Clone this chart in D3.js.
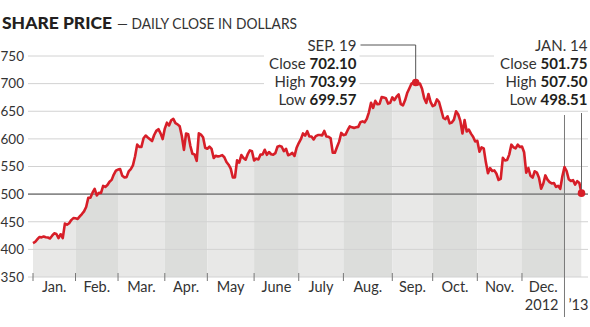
<!DOCTYPE html>
<html><head><meta charset="utf-8">
<script src="https://cdn.jsdelivr.net/npm/d3@7"></script>
<style>body{margin:0;background:#fff}svg{display:block;font-family:Lato,"Noto Sans",sans-serif}</style>
</head><body><svg id="c" width="590" height="327"></svg>
<script>
// ---- data ----
const titleMain = "SHARE PRICE";
const titleSub = "— DAILY CLOSE IN DOLLARS";
const monthLabels = ["Jan.","Feb.","Mar.","Apr.","May","June","July","Aug.","Sep.","Oct.","Nov.","Dec.",""];
const yearLabels = ["2012","’13"];
const yTicks = [350,400,450,500,550,600,650,700,750];
// daily closes (trading days), one array per month
const jan12 = [411.2,413.4,418.0,422.4,421.7,423.2,421.9,421.4,419.8,424.7,429.1,427.8,420.3,427.4,420.4,446.7,444.6,447.3,453.0,456.5];
const feb12 = [456.2,455.1,459.7,464.0,468.8,476.7,493.2,493.4,502.6,509.5,497.7,502.2,502.1,514.9,513.0,516.4,522.4,525.8,535.4,542.4];
const mar12 = [544.5,545.2,533.2,530.3,530.7,541.0,545.2,552.0,568.1,589.6,585.6,585.6,601.1,606.0,602.5,599.3,596.1,607.0,614.5,617.6,609.9,599.6];
const apr12 = [618.6,629.3,624.3,633.7,636.2,628.4,626.2,622.8,605.2,580.1,609.7,608.3,587.4,573.0,571.7,560.3,610.0,607.7,603.0,584.0];
const may12 = [582.1,586.0,581.8,565.3,569.5,568.2,569.2,570.5,566.7,558.2,553.2,546.1,530.1,530.4,561.3,557.0,570.6,565.3,562.3,572.3,579.2,577.7];
const jun12 = [561.0,564.3,562.8,571.5,571.7,580.3,571.2,576.2,572.2,571.5,574.1,585.8,587.4,585.7,577.7,582.1,570.5,572.0,574.5,569.1,584.0];
const jul12 = [592.5,599.4,609.9,605.9,613.9,604.4,604.4,598.9,605.0,606.9,606.9,606.3,614.3,604.3,603.8,600.9,575.0,574.9,585.2,595.0,610.8];
const aug12 = [606.8,607.8,615.7,622.6,620.9,619.9,621.0,621.7,630.0,631.7,630.0,636.3,648.1,665.2,656.1,668.9,662.6,663.2,675.7,674.8,673.5,663.9,665.2];
const sep12 = [675.0,670.2,676.3,680.4,662.7,660.6,669.8,683.0,691.3,699.8,701.9,702.1,698.7,700.1,690.8,673.5,665.0,681.3,667.1];
const oct12 = [659.4,661.3,671.5,666.8,652.6,638.2,635.9,640.9,628.1,629.7,634.8,649.8,644.6,632.6,609.8,634.0,613.4,616.8,609.5,604.0,595.3];
const nov12 = [596.5,576.8,584.6,582.9,558.0,537.8,547.1,542.0,542.9,536.9,525.6,527.7,565.7,560.9,561.7,571.5,589.5,584.8,582.9,589.4,585.3];
const dec12 = [586.2,575.9,538.8,547.2,533.3,529.8,541.4,539.0,529.7,509.8,518.8,533.9,526.3,521.7,519.3,520.2,513.0,515.1,509.6,532.2];
const jan13 = [549.0,541.6,527.0,523.9,525.3,517.1,523.5,520.3,501.75];
const closesByMonth = [jan12,feb12,mar12,apr12,may12,jun12,jul12,aug12,sep12,oct12,nov12,dec12,jan13];
// annotations
const annDate  = ["SEP. 19","JAN. 14"];
const annClose = [702.10, 501.75];
const annHigh  = [703.99, 507.50];
const annLow   = [699.57, 498.51];

// ---- build ----
const data = [];
const monthStart = [];
closesByMonth.forEach((arr,m)=>{ monthStart.push(data.length); arr.forEach(v=>data.push({i:data.length,v,m})); });
const n = data.length;

const svg = d3.select("#c");
const x = d3.scaleLinear().domain([0,n-1]).range([33,581.5]);
const y = d3.scaleLinear().domain([350,750]).range([277,56]);
const ink = "#231f20";

// title
svg.append("text").attr("x",2).attr("y",29).attr("fill",ink).attr("font-weight",900).attr("font-size",17.5)
  .attr("textLength",110).attr("lengthAdjust","spacingAndGlyphs").text(titleMain);
svg.append("text").attr("x",117).attr("y",29).attr("fill","#333").attr("font-size",15)
  .attr("textLength",180).attr("lengthAdjust","spacingAndGlyphs").text(titleSub);

// area clip
const area = d3.area().x(d=>x(d.i)).y0(y(350)).y1(d=>y(d.v));
svg.append("clipPath").attr("id","ac").append("path").attr("d",area(data));
const bandEdges = monthStart.map(s=>x(s)).concat([x(n-1)]);
svg.append("g").attr("clip-path","url(#ac)").selectAll("rect").data(monthStart).join("rect")
  .attr("x",(d,k)=>bandEdges[k]).attr("width",(d,k)=>bandEdges[k+1]-bandEdges[k])
  .attr("y",y(750)).attr("height",y(350)-y(750))
  .attr("fill",(d,k)=>k%2? "#dcdddb":"#e8e8e7");

// gridlines
svg.append("g").selectAll("line").data(yTicks).join("line")
  .attr("x1",28).attr("x2",588).attr("y1",d=>y(d)).attr("y2",d=>y(d))
  .attr("stroke",d=>d===500?"#8a8a8a":"#d2d2d2").attr("stroke-width",d=>d===500?1.6:1);
svg.append("g").selectAll("text").data(yTicks).join("text")
  .attr("x",24).attr("y",d=>y(d)).attr("dy","0.36em").attr("text-anchor","end")
  .attr("font-size",13.5).attr("fill","#333").text(d=>d);

// x ticks
svg.append("g").selectAll("line").data(monthStart.slice(0,12)).join("line")
  .attr("x1",d=>x(d)).attr("x2",d=>x(d)).attr("y1",273).attr("y2",281)
  .attr("stroke","#777").attr("stroke-width",1);
svg.append("g").selectAll("text").data(monthLabels.slice(0,12)).join("text")
  .attr("x",(d,k)=>(x(monthStart[k])+x(monthStart[k+1]))/2).attr("y",292)
  .attr("text-anchor","middle").attr("font-size",14.5).attr("fill","#333").text(d=>d);
// year divider
const xy = x(monthStart[12]);
svg.append("line").attr("x1",xy).attr("x2",xy).attr("y1",115).attr("y2",317).attr("stroke","#7a7a7a").attr("stroke-width",1);
svg.append("text").attr("x",xy-6).attr("y",310).attr("text-anchor","end").attr("font-size",14.5).attr("fill","#333").text(yearLabels[0]);
svg.append("text").attr("x",xy+4).attr("y",310).attr("font-size",14.5).attr("fill","#333").text(yearLabels[1]);

// line
svg.append("path").attr("d",d3.line().x(d=>x(d.i)).y(d=>y(d.v))(data))
  .attr("fill","none").attr("stroke","#d71e28").attr("stroke-width",2.6).attr("stroke-linejoin","round");

// annotations
const pk = data.reduce((a,b)=>b.v>a.v?b:a);
const last = data[n-1];
const pts = [pk,last];
const rights = [356.5, 587.5];
const boxLeft = [264, 494];
pts.forEach((p,k)=>{
  svg.append("rect").attr("x",boxLeft[k]).attr("y",38).attr("width",rights[k]-boxLeft[k]+3).attr("height",71).attr("fill","#fff");
});
// leaders
svg.append("path").attr("d",`M${rights[0]+4},45H${x(pk.i)}V${y(pk.v)}`).attr("fill","none").attr("stroke","#555").attr("stroke-width",1);
svg.append("line").attr("x1",x(last.i)).attr("x2",x(last.i)).attr("y1",113).attr("y2",y(last.v)).attr("stroke","#666").attr("stroke-width",1);
pts.forEach(p=>svg.append("circle").attr("cx",x(p.i)).attr("cy",y(p.v)).attr("r",3.8).attr("fill","#d71e28"));
const rows = [["",annDate],["Close ",annClose],["High ",annHigh],["Low ",annLow]];
const baseY = [50.7,68.5,87,105.3];
pts.forEach((p,k)=>{
  rows.forEach((r,j)=>{
    const tx = svg.append("text").attr("x",rights[k]).attr("y",baseY[j]).attr("text-anchor","end").attr("font-size",15).attr("fill",ink);
    if(j===0){ tx.attr("fill","#333").text(r[1][k]); }
    else { tx.append("tspan").attr("fill","#333").text(r[0]); tx.append("tspan").attr("font-weight",700).text(r[1][k].toFixed(2)); }
  });
});
</script></body></html>
